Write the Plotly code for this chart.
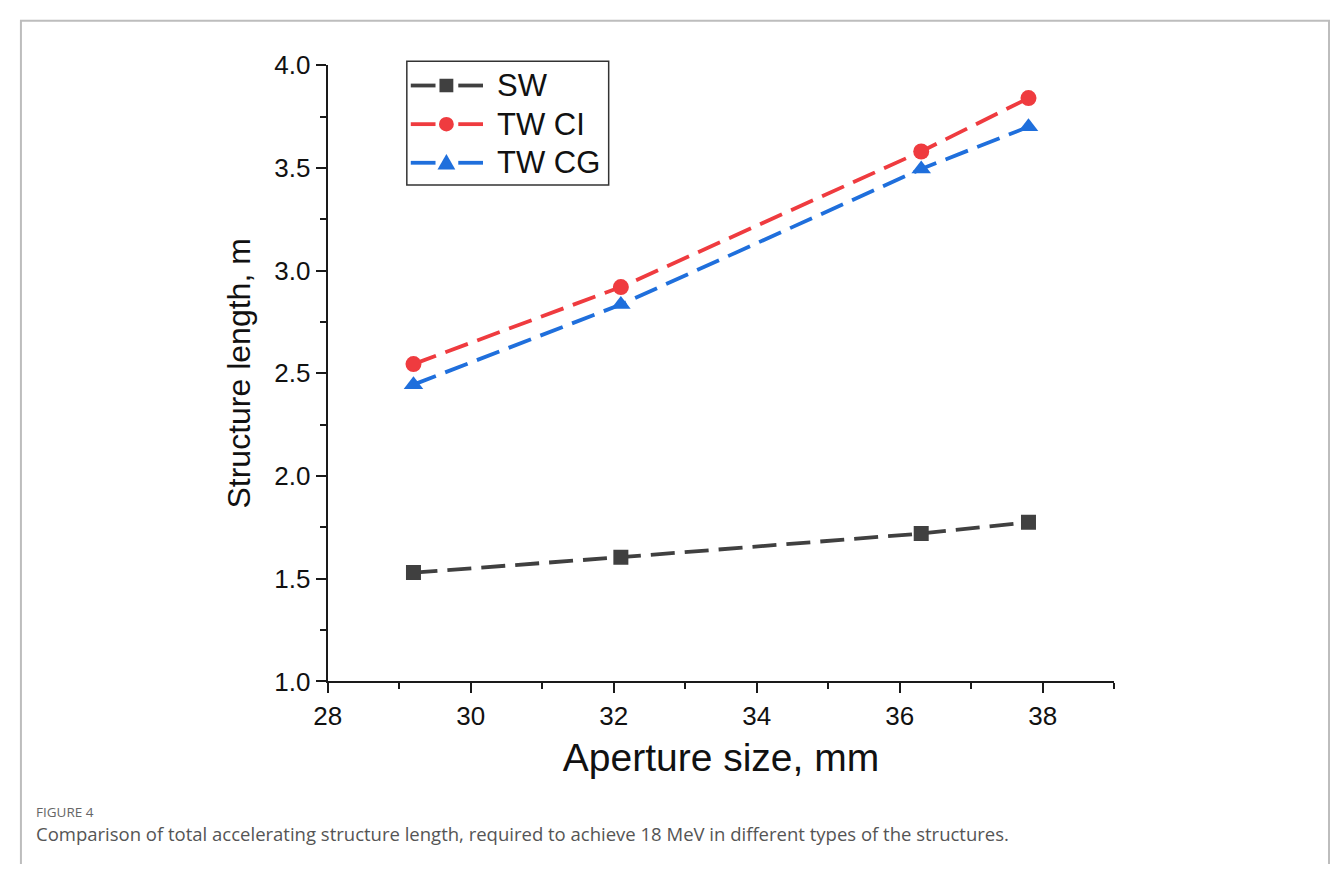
import plotly.graph_objects as go

W, H = 1330, 879

aperture_mm = [29.2, 32.1, 36.3, 37.8]
sw_length = [1.53, 1.605, 1.72, 1.775]
tw_ci_length = [2.545, 2.92, 3.58, 3.84]
tw_cg_length = [2.445, 2.835, 3.495, 3.70]

series_names = ["SW", "TW CI", "TW CG"]
series_values = [sw_length, tw_ci_length, tw_cg_length]
series_colors = ["#404040", "#ef3b3f", "#1f6fdc"]
series_symbols = ["square", "circle", "triangle-up"]
series_sizes = [15, 16, 17]

x_ticks = [28, 30, 32, 34, 36, 38]
y_ticks = [1.0, 1.5, 2.0, 2.5, 3.0, 3.5, 4.0]

caption_label = "FIGURE 4"
caption_text = ("Comparison of total accelerating structure length, required to achieve 18 MeV "
                "in different types of the structures.")


def px(x):
    return x / W


def py(y):
    return 1 - y / H


fig = go.Figure()
for name, vals, col, sym, sz in zip(series_names, series_values, series_colors,
                                    series_symbols, series_sizes):
    fig.add_trace(go.Scatter(
        x=aperture_mm, y=vals, name=name, mode="lines+markers",
        line=dict(color=col, width=3.8, dash="24px,10px"),
        marker=dict(symbol=sym, size=sz, color=col),
        showlegend=False,
    ))

axis_color = "#1a1a1a"
fig.update_layout(
    width=W, height=H,
    margin=dict(l=0, r=0, t=0, b=0),
    paper_bgcolor="white", plot_bgcolor="white",
    font=dict(family="Liberation Sans, Arial, sans-serif", color="#111"),
    xaxis=dict(
        domain=[px(317), px(1112)], range=[28, 39],
        tickvals=x_ticks, ticks="outside", ticklen=10, tickwidth=2,
        tickcolor=axis_color, showline=True, linecolor=axis_color, linewidth=2,
        showgrid=False, zeroline=False, tickfont=dict(size=26),
        minor=dict(dtick=1, ticks="outside", ticklen=6, tickwidth=2,
                   tickcolor=axis_color, showgrid=False),
        title=dict(text="Aperture size, mm", font=dict(size=39), standoff=14),
    ),
    yaxis=dict(
        domain=[py(690), py(52)], range=[1, 4],
        tickvals=y_ticks, tickformat=".1f", ticks="outside", ticklen=10,
        tickwidth=2, tickcolor=axis_color, showline=True, linecolor=axis_color,
        linewidth=2, showgrid=False, zeroline=False, tickfont=dict(size=26),
        minor=dict(dtick=0.25, ticks="outside", ticklen=6, tickwidth=2,
                   tickcolor=axis_color, showgrid=False),
        title=dict(text="Structure length, m", font=dict(size=32), standoff=14),
    ),
)

shapes = []
# outer frame (top, left and right edges)
shapes.append(dict(type="path", xref="paper", yref="paper",
                   path=f"M{px(7)},{py(879)} L{px(7)},{py(6)} L{px(1329)},{py(6)} L{px(1329)},{py(879)}",
                   line=dict(color="#bdbdbd", width=2)))
# legend box
shapes.append(dict(type="rect", xref="paper", yref="paper",
                   x0=px(397), x1=px(601), y0=py(176), y1=py(48),
                   line=dict(color="#333", width=1.5), fillcolor="white", layer="above"))

annotations = []
leg_y = [73, 113, 153]
for name, col, sym, yy in zip(series_names, series_colors, series_symbols, leg_y):
    for x0, x1 in [(401, 426), (449, 474)]:
        shapes.append(dict(type="line", xref="paper", yref="paper",
                           x0=px(x0), x1=px(x1), y0=py(yy), y1=py(yy),
                           line=dict(color=col, width=3.8), layer="above"))
    cx = 437
    if sym == "square":
        shapes.append(dict(type="rect", xref="paper", yref="paper",
                           x0=px(cx - 7), x1=px(cx + 7), y0=py(yy + 7), y1=py(yy - 7),
                           fillcolor=col, line=dict(width=0), layer="above"))
    elif sym == "circle":
        shapes.append(dict(type="circle", xref="paper", yref="paper",
                           x0=px(cx - 7.5), x1=px(cx + 7.5), y0=py(yy + 7.5), y1=py(yy - 7.5),
                           fillcolor=col, line=dict(width=0), layer="above"))
    else:
        shapes.append(dict(type="path", xref="paper", yref="paper",
                           path=f"M{px(cx - 9)},{py(yy + 7)} L{px(cx + 9)},{py(yy + 7)} L{px(cx)},{py(yy - 9)} Z",
                           fillcolor=col, line=dict(width=0), layer="above"))
    annotations.append(dict(xref="paper", yref="paper", x=px(486), y=py(yy),
                            xanchor="left", yanchor="middle", showarrow=False,
                            text=name, font=dict(size=31, color="#111")))

annotations.append(dict(xref="paper", yref="paper", x=px(20), y=py(825),
                        xanchor="left", yanchor="middle", showarrow=False,
                        text=caption_label,
                        font=dict(family="Open Sans, sans-serif", size=13.5, color="#666")))
annotations.append(dict(xref="paper", yref="paper", x=px(20), y=py(847),
                        xanchor="left", yanchor="middle", showarrow=False,
                        text=caption_text,
                        font=dict(family="Open Sans, sans-serif", size=18.5, color="#555")))

fig.update_layout(shapes=shapes, annotations=annotations)
fig.write_html("out.html", post_script="document.body.style.margin='0';")
